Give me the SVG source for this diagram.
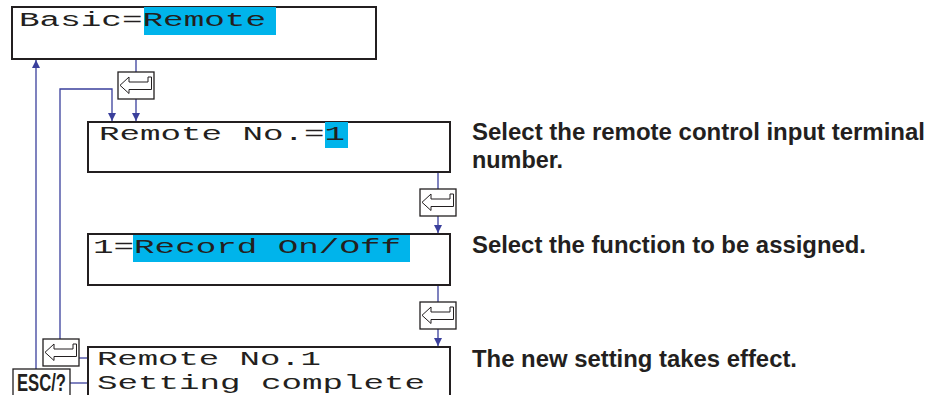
<svg xmlns="http://www.w3.org/2000/svg" width="929" height="395" viewBox="0 0 929 395">
<defs>
<style>
.box{fill:#fff;stroke:#231f20;stroke-width:2}
.hl{fill:#00b4eb}
.mono{font-family:"Liberation Mono","Courier New",monospace;font-size:20px;fill:#231f20}
.desc{font-family:"Liberation Sans",Arial,Helvetica,sans-serif;font-size:23px;font-weight:bold;fill:#231f20}
.ln{fill:none;stroke:#3a3f9c;stroke-width:1.3}
.key{fill:#fff;stroke:#231f20;stroke-width:1.3}
.keyarrow{fill:#fff;stroke:#231f20;stroke-width:1}
</style>
<marker id="ah" viewBox="0 0 10 10" refX="10" refY="5" markerWidth="8" markerHeight="8" markerUnits="userSpaceOnUse" orient="auto">
<path d="M0,0 L10,5 L0,10 z" fill="#3a3f9c"/>
</marker>
<g id="enterIcon">
<rect class="key" x="0" y="0" width="36" height="27"/>
<polygon class="keyarrow" points="2,13.3 11,5 11,10 30,10 30,5 33.5,5 33.5,17.5 11,17.5 11,21.5"/>
</g>
</defs>

<g id="connectors">
<line class="ln" x1="136" y1="59" x2="136" y2="72"/>
<line class="ln" x1="136" y1="99" x2="136" y2="121" marker-end="url(#ah)"/>
<polyline class="ln" points="60,339 60,89 112,89 112,121" marker-end="url(#ah)"/>
<line class="ln" x1="36" y1="369" x2="36" y2="60" marker-end="url(#ah)"/>
<line class="ln" x1="438" y1="172" x2="438" y2="189"/>
<line class="ln" x1="438" y1="216" x2="438" y2="233" marker-end="url(#ah)"/>
<line class="ln" x1="438" y1="285" x2="438" y2="302"/>
<line class="ln" x1="438" y1="329" x2="438" y2="346" marker-end="url(#ah)"/>
<line class="ln" x1="78" y1="358" x2="88" y2="358"/>
<line class="ln" x1="70" y1="383" x2="88" y2="383"/>
</g>

<g id="node-basic">
<rect class="box" x="12" y="7" width="364" height="52"/>
<rect class="hl" x="144" y="7" width="132" height="28"/>
<text class="mono" x="19" y="26" textLength="247" lengthAdjust="spacingAndGlyphs">Basic=Remote</text>
</g>

<g id="key-1">
<use href="#enterIcon" x="118" y="72"/>
</g>

<g id="node-remoteno">
<rect class="box" x="88" y="122" width="362" height="50"/>
<rect class="hl" x="325" y="122" width="23" height="26"/>
<text class="mono" x="99" y="140" textLength="246" lengthAdjust="spacingAndGlyphs">Remote No.=1</text>
</g>
<text class="desc" x="472" y="140" textLength="453" lengthAdjust="spacingAndGlyphs">Select the remote control input terminal</text>
<text class="desc" x="472" y="168" textLength="91" lengthAdjust="spacingAndGlyphs">number.</text>

<g id="key-2">
<use href="#enterIcon" x="420" y="189"/>
</g>

<g id="node-record">
<rect class="box" x="88" y="234" width="362" height="51"/>
<rect class="hl" x="133" y="235" width="277" height="27"/>
<text class="mono" x="93" y="253" textLength="308" lengthAdjust="spacingAndGlyphs">1=Record On/Off</text>
</g>
<text class="desc" x="472" y="253" textLength="394" lengthAdjust="spacingAndGlyphs">Select the function to be assigned.</text>

<g id="key-3">
<use href="#enterIcon" x="420" y="302"/>
</g>

<g id="node-complete">
<rect class="box" x="88" y="347" width="362" height="60"/>
<text class="mono" x="97" y="365" textLength="224" lengthAdjust="spacingAndGlyphs">Remote No.1</text>
<text class="mono" x="97" y="389" textLength="328" lengthAdjust="spacingAndGlyphs">Setting complete</text>
</g>
<text class="desc" x="472" y="367" textLength="325" lengthAdjust="spacingAndGlyphs">The new setting takes effect.</text>

<g id="key-4">
<use href="#enterIcon" x="43" y="339"/>
</g>

<g id="key-esc">
<rect class="key" x="13" y="369" width="57" height="36" stroke-width="2"/>
<text x="17" y="391" font-family="'Liberation Sans',Arial,sans-serif" font-weight="bold" font-size="23" fill="#231f20" textLength="49" lengthAdjust="spacingAndGlyphs">ESC/?</text>
</g>
</svg>
